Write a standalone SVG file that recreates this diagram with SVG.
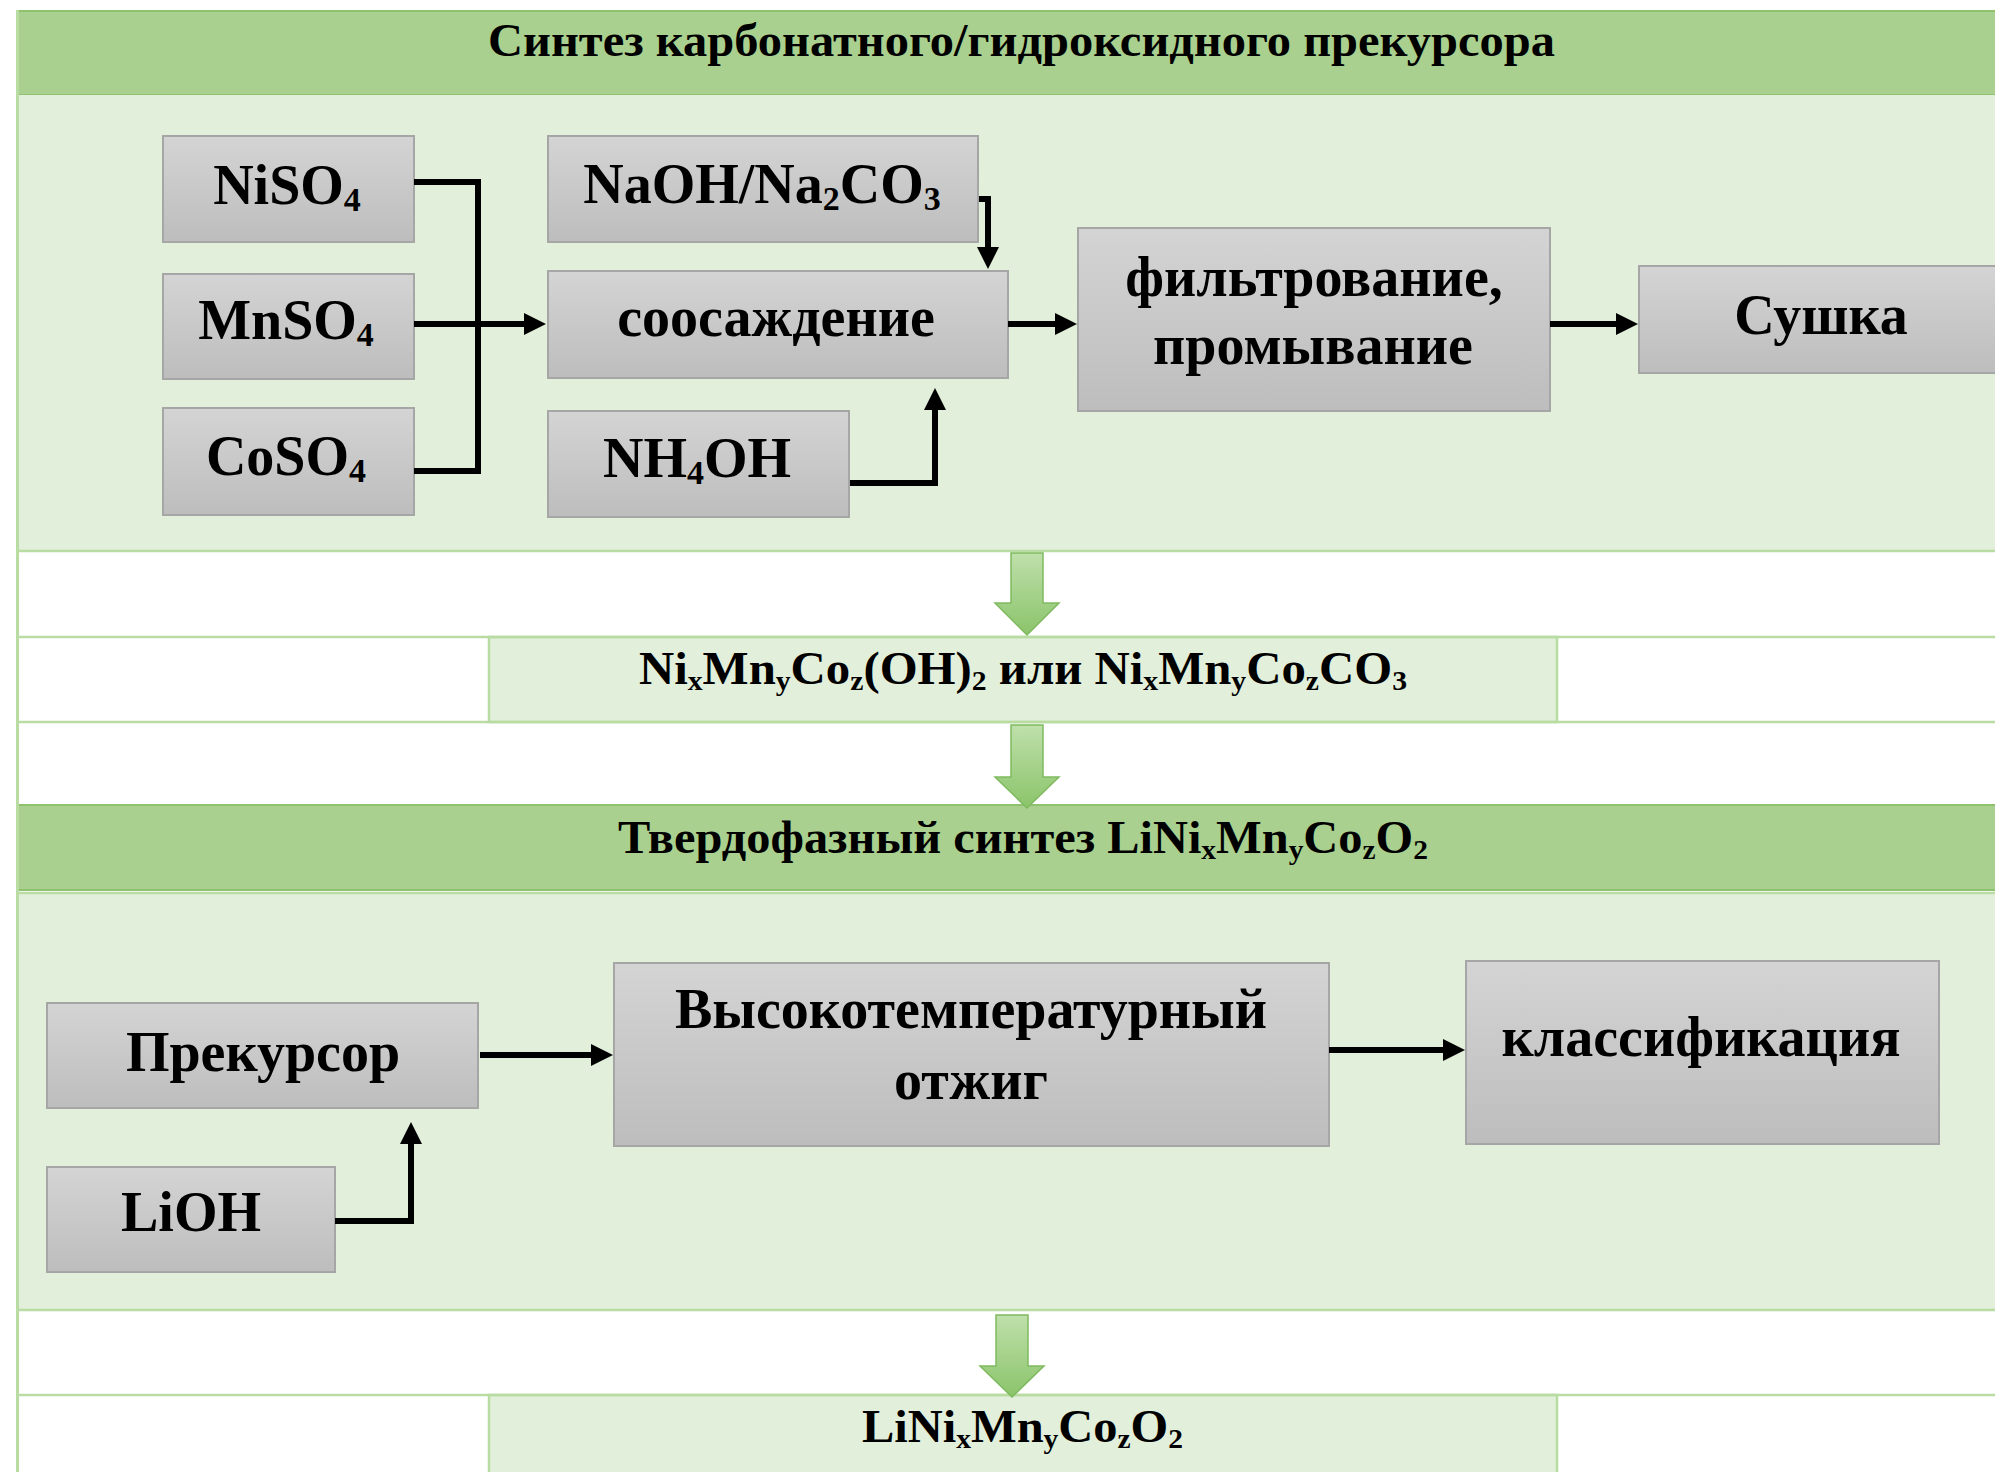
<svg xmlns="http://www.w3.org/2000/svg" width="1995" height="1472" viewBox="0 0 1995 1472">
  <defs>
    <linearGradient id="gBox" x1="0" y1="0" x2="0" y2="1">
      <stop offset="0" stop-color="#d4d4d4"/>
      <stop offset="1" stop-color="#bdbdbd"/>
    </linearGradient>
    <linearGradient id="gArrow" x1="0" y1="0" x2="0" y2="1">
      <stop offset="0" stop-color="#bfe0ab"/>
      <stop offset="1" stop-color="#8bc46a"/>
    </linearGradient>
    <marker id="ah" markerUnits="userSpaceOnUse" markerWidth="24" markerHeight="24" refX="2" refY="11" orient="auto">
      <path d="M0,0 L22,11 L0,22 z" fill="#000"/>
    </marker>
    <style>
      .hdr { fill: #a9d08e; stroke: #8fc26f; stroke-width: 2; }
      .body { fill: #e2efda; }
      .cell { fill: #e2efda; stroke: #b9dca3; stroke-width: 2.5; }
      .rule { stroke: #b9dca3; stroke-width: 2.5; fill: none; }
      .box { fill: url(#gBox); stroke: #a6a6a6; stroke-width: 2; }
      .t { font-family: "Liberation Serif", "Times New Roman", serif; font-weight: bold; fill: #000; }
      .n { font-size: 56px; text-anchor: middle; }
      .h { font-size: 46px; }
      .sub { font-size: 34px; }
      .hsub { font-size: 28px; }
      .con { fill: none; stroke: #000; stroke-width: 6; stroke-linejoin: miter; }
      .big { fill: url(#gArrow); stroke: #7fba5f; stroke-width: 1.5; }
    </style>
  </defs>

  <rect x="0" y="0" width="1995" height="1472" fill="#ffffff"/>

  <g id="table">
    <rect class="hdr" x="17" y="11" width="1990" height="84"/>
    <rect class="body" x="17" y="95" width="1990" height="456"/>
    <rect class="cell" x="489" y="637" width="1068" height="85"/>
    <rect class="hdr" x="17" y="805" width="1990" height="85"/>
    <rect class="body" x="17" y="893" width="1990" height="417"/>
    <rect class="cell" x="489" y="1395" width="1068" height="90"/>
    <path class="rule" d="M17,551 H1995 M17,637 H1995 M17,722 H1995 M17,893 H1995 M17,1310 H1995 M17,1395 H1995"/>
    <path d="M17.5,10 V1472" stroke="#b9dca3" stroke-width="3" fill="none"/>
  </g>

  <g id="header1">
    <text class="t h" x="488" y="56" textLength="1067" lengthAdjust="spacingAndGlyphs">Синтез карбонатного/гидроксидного прекурсора</text>
  </g>

  <g id="n-niso4">
    <rect class="box" x="163" y="136" width="251" height="106"/>
    <text class="t n" x="287" y="204">NiSO<tspan class="sub" dy="7">4</tspan></text>
  </g>
  <g id="n-mnso4">
    <rect class="box" x="163" y="274" width="251" height="105"/>
    <text class="t n" x="286" y="339">MnSO<tspan class="sub" dy="7">4</tspan></text>
  </g>
  <g id="n-coso4">
    <rect class="box" x="163" y="408" width="251" height="107"/>
    <text class="t n" x="286" y="475">CoSO<tspan class="sub" dy="7">4</tspan></text>
  </g>
  <g id="n-naoh">
    <rect class="box" x="548" y="136" width="430" height="106"/>
    <text class="t n" x="762" y="203">NaOH/Na<tspan class="sub" dy="7">2</tspan><tspan dy="-7">CO</tspan><tspan class="sub" dy="7">3</tspan></text>
  </g>
  <g id="n-coprecip">
    <rect class="box" x="548" y="271" width="460" height="107"/>
    <text class="t n" x="776" y="336">соосаждение</text>
  </g>
  <g id="n-nh4oh">
    <rect class="box" x="548" y="411" width="301" height="106"/>
    <text class="t n" x="697" y="477">NH<tspan class="sub" dy="7">4</tspan><tspan dy="-7">OH</tspan></text>
  </g>
  <g id="n-filter">
    <rect class="box" x="1078" y="228" width="472" height="183"/>
    <text class="t n" x="1314" y="296">фильтрование,</text>
    <text class="t n" x="1313" y="364">промывание</text>
  </g>
  <g id="n-dry">
    <rect class="box" x="1639" y="266" width="366" height="107"/>
    <text class="t n" x="1821" y="334">Сушка</text>
  </g>

  <g id="result1">
    <text class="t h" x="639" y="684" textLength="768" lengthAdjust="spacingAndGlyphs">Ni<tspan class="hsub" dy="6">x</tspan><tspan dy="-6">Mn</tspan><tspan class="hsub" dy="6">y</tspan><tspan dy="-6">Co</tspan><tspan class="hsub" dy="6">z</tspan><tspan dy="-6">(OH)</tspan><tspan class="hsub" dy="6">2</tspan><tspan dy="-6"> или Ni</tspan><tspan class="hsub" dy="6">x</tspan><tspan dy="-6">Mn</tspan><tspan class="hsub" dy="6">y</tspan><tspan dy="-6">Co</tspan><tspan class="hsub" dy="6">z</tspan><tspan dy="-6">CO</tspan><tspan class="hsub" dy="6">3</tspan></text>
  </g>

  <g id="header2">
    <text class="t h" x="618" y="853" textLength="810" lengthAdjust="spacingAndGlyphs">Твердофазный синтез LiNi<tspan class="hsub" dy="6">x</tspan><tspan dy="-6">Mn</tspan><tspan class="hsub" dy="6">y</tspan><tspan dy="-6">Co</tspan><tspan class="hsub" dy="6">z</tspan><tspan dy="-6">O</tspan><tspan class="hsub" dy="6">2</tspan></text>
  </g>

  <g id="n-precursor">
    <rect class="box" x="47" y="1003" width="431" height="105"/>
    <text class="t n" x="263" y="1071">Прекурсор</text>
  </g>
  <g id="n-lioh">
    <rect class="box" x="47" y="1167" width="288" height="105"/>
    <text class="t n" x="191" y="1231">LiOH</text>
  </g>
  <g id="n-anneal">
    <rect class="box" x="614" y="963" width="715" height="183"/>
    <text class="t n" x="971" y="1028">Высокотемпературный</text>
    <text class="t n" x="971" y="1099">отжиг</text>
  </g>
  <g id="n-classify">
    <rect class="box" x="1466" y="961" width="473" height="183"/>
    <text class="t n" x="1701" y="1056">классификация</text>
  </g>

  <g id="result2">
    <text class="t h" x="862" y="1442" textLength="321" lengthAdjust="spacingAndGlyphs">LiNi<tspan class="hsub" dy="6">x</tspan><tspan dy="-6">Mn</tspan><tspan class="hsub" dy="6">y</tspan><tspan dy="-6">Co</tspan><tspan class="hsub" dy="6">z</tspan><tspan dy="-6">O</tspan><tspan class="hsub" dy="6">2</tspan></text>
  </g>

  <g id="connectors">
    <path class="con" d="M414,182 H478 V471 H414"/>
    <path class="con" d="M414,324 H526" marker-end="url(#ah)"/>
    <path class="con" d="M979,199 H988 V249" marker-end="url(#ah)"/>
    <path class="con" d="M850,483 H935 V408" marker-end="url(#ah)"/>
    <path class="con" d="M1008,324 H1057" marker-end="url(#ah)"/>
    <path class="con" d="M1550,324 H1618" marker-end="url(#ah)"/>
    <path class="con" d="M480,1055 H593" marker-end="url(#ah)"/>
    <path class="con" d="M335,1221 H411 V1142" marker-end="url(#ah)"/>
    <path class="con" d="M1329,1050 H1445" marker-end="url(#ah)"/>
    <polygon class="big" points="1011,553 1043,553 1043,603 1059,603 1027,635 995,603 1011,603"/>
    <polygon class="big" points="1011,725 1043,725 1043,777 1059,777 1027,808 995,777 1011,777"/>
    <polygon class="big" points="996,1315 1028,1315 1028,1366 1044,1366 1012,1397 980,1366 996,1366"/>
  </g>
</svg>
